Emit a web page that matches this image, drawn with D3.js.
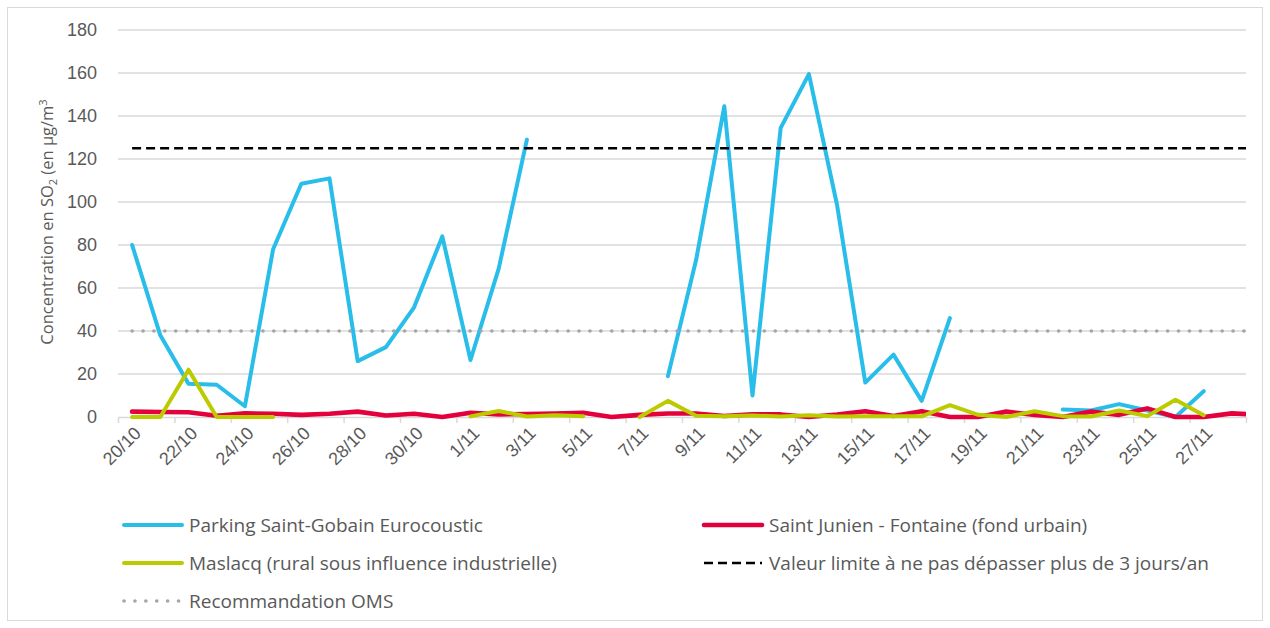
<!DOCTYPE html>
<html>
<head>
<meta charset="utf-8">
<script src="https://cdn.jsdelivr.net/npm/d3@7"></script>
<style>
  html, body { margin: 0; padding: 0; background: #fff; }
  svg { display: block; font-family: "Open Sans", "Noto Sans", sans-serif; }
</style>
</head>
<body>
<svg id="chart" width="1270" height="628"></svg>
<script>
// ---- data ----
const dates = ["20/10","21/10","22/10","23/10","24/10","25/10","26/10","27/10","28/10","29/10","30/10","31/10",
  "1/11","2/11","3/11","4/11","5/11","6/11","7/11","8/11","9/11","10/11","11/11","12/11","13/11","14/11",
  "15/11","16/11","17/11","18/11","19/11","20/11","21/11","22/11","23/11","24/11","25/11","26/11","27/11","28/11"];
const parking = [80, 38, 15.5, 15, 5, 78, 108.5, 111, 26, 32.5, 51, 84,
  26.5, 69, 129, null, null, null, null, 19, 73, 144.5, 10, 134.5, 159.5, 98.5,
  16, 29, 7.5, 46, null, null, null, 3.5, 3, 6, 3, 0, 12, null];
// last value belongs to 29/11 (beyond the axis, clipped)
const saintJunien = [2.5, 2.3, 2.2, 0.6, 1.7, 1.5, 1, 1.5, 2.5, 0.7, 1.5, 0,
  2, 1.2, 1.4, 1.6, 2, 0, 1, 1.6, 1.6, 0.5, 1.2, 1.2, 0, 1.2,
  2.7, 0.5, 2.7, 0, 0, 2.5, 1, 0, 2.5, 1, 4, 0, 0, 1.7, 1];
const maslacq = [0, 0, 22, 0, 0, 0, null, null, null, null, null, null,
  0.3, 2.8, 0.2, 0.8, 0.4, null, 0, 7.5, 0.6, 0.3, 0.7, 0.2, 0.8, 0.2,
  0.3, 0.3, 0.3, 5.5, 1, 0, 2.7, 0.4, 0.2, 3, 0.4, 8, 0.8, null];
const valeurLimite = 125;
const recommandationOMS = 40;
const yTicks = [0, 20, 40, 60, 80, 100, 120, 140, 160, 180];
const labelIdx = d3.range(0, 40, 2);

// ---- layout ----
const svg = d3.select("#chart");
const pL = 118, pR = 1246, pT = 30, pB = 417;
const x = d3.scaleLinear().domain([-0.5, dates.length - 0.5]).range([pL, pR]);
const y = d3.scaleLinear().domain([0, 180]).range([pB, pT]);
const textColor = "#595959", gridColor = "#d9d9d9";

// outer frame
svg.append("rect").attr("x", 7.5).attr("y", 7.5).attr("width", 1255).attr("height", 613)
  .attr("fill", "none").attr("stroke", gridColor).attr("stroke-width", 1);

// gridlines
svg.append("g").selectAll("line").data(yTicks.filter(v => v > 0)).join("line")
  .attr("x1", pL).attr("x2", pR).attr("y1", d => y(d)).attr("y2", d => y(d))
  .attr("stroke", gridColor).attr("stroke-width", 1.5);

// y axis labels
const yAxis = d3.axisLeft(y).tickValues(yTicks).tickSize(0).tickPadding(21);
const gy = svg.append("g").attr("transform", `translate(${pL},0)`).call(yAxis);
gy.select(".domain").remove();
gy.selectAll("text").attr("fill", textColor).style("font-size", "18px");

// x axis line + tick marks
const tickIdx = d3.range(-0.5, dates.length, 2);
const xTickAxis = d3.axisBottom(x).tickValues(tickIdx).tickFormat("").tickSizeOuter(0).tickSizeInner(6);
const gx = svg.append("g").attr("transform", `translate(0,${pB})`).call(xTickAxis);
gx.select(".domain").attr("stroke", gridColor).attr("stroke-width", 1.5);
gx.selectAll(".tick line").attr("stroke", gridColor).attr("stroke-width", 1.5);

// x labels
const xLabelAxis = d3.axisBottom(x).tickValues(labelIdx).tickFormat(i => dates[i]).tickSize(0);
const gxl = svg.append("g").attr("transform", `translate(0,${pB})`).call(xLabelAxis);
gxl.select(".domain").remove();
gxl.selectAll("text")
  .attr("fill", textColor).style("font-size", "18px")
  .attr("text-anchor", "end")
  .attr("y", 0).attr("dy", "0.35em")
  .attr("transform", "translate(5,13) rotate(-45)");

// y title
const yt = svg.append("text")
  .attr("transform", "translate(53,222) rotate(-90)")
  .attr("text-anchor", "middle").attr("fill", textColor).style("font-size", "16.5px");
yt.append("tspan").text("Concentration en SO");
yt.append("tspan").text("2").attr("dy", "4").style("font-size", "11px");
yt.append("tspan").text(" (en µg/m").attr("dy", "-4");
yt.append("tspan").text("3").attr("dy", "-6").style("font-size", "11px");

// clip
svg.append("defs").append("clipPath").attr("id", "plotclip")
  .append("rect").attr("x", pL).attr("y", 0).attr("width", pR - pL).attr("height", 628);

const plot = svg.append("g").attr("clip-path", "url(#plotclip)");
const line = d3.line().defined(d => d[1] != null).x(d => x(d[0])).y(d => y(d[1]));
const pts = arr => arr.map((v, i) => [i, v]);

const series = [
  { data: parking, color: "#29bdea", width: 4 },
  { data: saintJunien, color: "#e3003b", width: 4.6 },
  { data: maslacq, color: "#bccb00", width: 4 }
];
series.forEach(s => {
  plot.append("path").datum(pts(s.data)).attr("d", line)
    .attr("fill", "none").attr("stroke", s.color).attr("stroke-width", s.width)
    .attr("stroke-linejoin", "round").attr("stroke-linecap", "round");
});

// limit lines (one value per day, plus 29/11 clipped)
const limitIdx = d3.range(0, dates.length + 1);
plot.append("path").datum(limitIdx.map(i => [i, valeurLimite])).attr("d", line)
  .attr("fill", "none").attr("stroke", "#000").attr("stroke-width", 2.6)
  .attr("stroke-dasharray", "9,5");
plot.append("path").datum(limitIdx.map(i => [i, recommandationOMS])).attr("d", line)
  .attr("fill", "none").attr("stroke", "#a6a6a6").attr("stroke-width", 3.6)
  .attr("stroke-linecap", "round").attr("stroke-dasharray", "0.1,10.8");

// legend
const legend = [
  { label: "Parking Saint-Gobain Eurocoustic", color: "#29bdea", w: 4, dash: null, cap: "round", col: 0, row: 0 },
  { label: "Saint Junien - Fontaine (fond urbain)", color: "#e3003b", w: 4.6, dash: null, cap: "round", col: 1, row: 0 },
  { label: "Maslacq (rural sous influence industrielle)", color: "#bccb00", w: 4, dash: null, cap: "round", col: 0, row: 1 },
  { label: "Valeur limite à ne pas dépasser plus de 3 jours/an", color: "#000", w: 2.6, dash: "9,5", cap: "butt", col: 1, row: 1 },
  { label: "Recommandation OMS", color: "#a6a6a6", w: 3.6, dash: "0.1,10.8", cap: "round", col: 0, row: 2 }
];
const colX = [124, 704], rowY = [525, 563, 601];
const lg = svg.append("g");
legend.forEach(d => {
  const gx0 = colX[d.col], gy0 = rowY[d.row];
  lg.append("line").attr("x1", gx0).attr("x2", gx0 + 58).attr("y1", gy0).attr("y2", gy0)
    .attr("stroke", d.color).attr("stroke-width", d.w).attr("stroke-linecap", d.cap)
    .attr("stroke-dasharray", d.dash);
  lg.append("text").attr("x", gx0 + 65).attr("y", gy0).attr("dy", "0.35em")
    .attr("fill", textColor).style("font-size", "19px").text(d.label);
});
</script>
</body>
</html>
